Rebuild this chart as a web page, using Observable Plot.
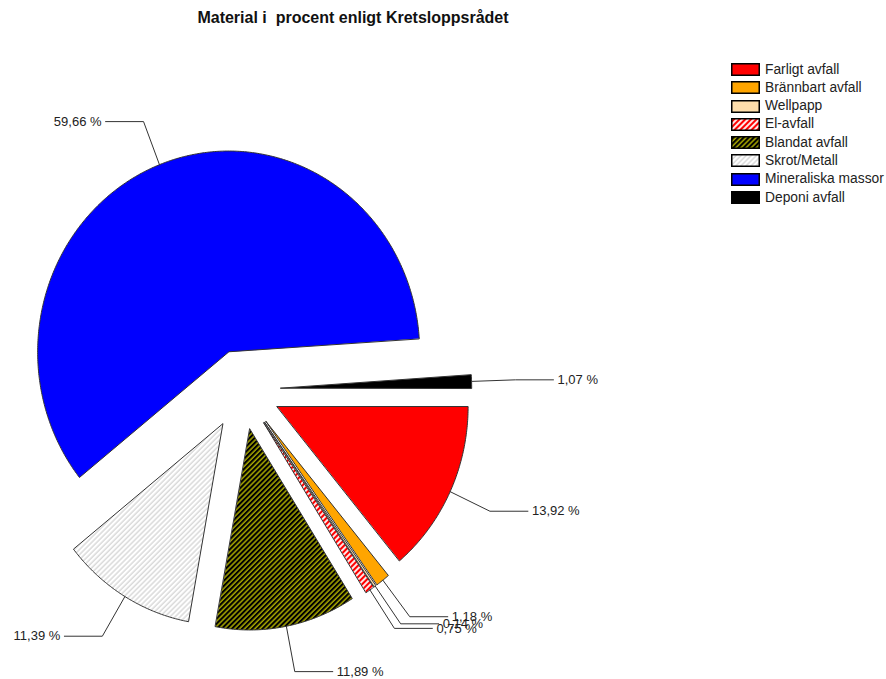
<!DOCTYPE html>
<html>
<head>
<meta charset="utf-8">
<script src="https://cdn.jsdelivr.net/npm/d3@7"></script>
<script src="https://cdn.jsdelivr.net/npm/@observablehq/plot@0.6"></script>
<style>
  body { margin: 0; background: #fff; font-family: "Liberation Sans", Arial, sans-serif; }
  #wrap { position: relative; width: 886px; height: 679px; overflow: hidden; }
  #title { height: 36px; width: 706px; text-align: center; font-weight: bold; font-size: 16px;
           line-height: 18px; padding-top: 9px; box-sizing: border-box; white-space: pre; color: #111; }
  #legend { position: absolute; left: 731px; top: 63px; font-size: 13.8px; color: #222; }
  .row { position: relative; height: 18.3px; }
  .row svg { position: absolute; left: 0; top: 0; }
  .row span { position: absolute; left: 34px; top: -1.5px; line-height: 15px; white-space: nowrap; }
  #defs { position: absolute; width: 0; height: 0; }
</style>
</head>
<body>
<svg id="defs" width="0" height="0">
  <defs>
    <pattern id="hatch-el" patternUnits="userSpaceOnUse" width="4" height="4" patternTransform="rotate(45)">
      <rect width="4" height="4" fill="#ff0000"></rect>
      <line x1="1" y1="0" x2="1" y2="4" stroke="#ffffff" stroke-width="1.8"></line>
    </pattern>
    <pattern id="hatch-blandat" patternUnits="userSpaceOnUse" width="3.6" height="3.6" patternTransform="rotate(45)">
      <rect width="3.6" height="3.6" fill="#000000"></rect>
      <line x1="1" y1="0" x2="1" y2="3.6" stroke="#e6e600" stroke-width="1.1"></line>
    </pattern>
    <pattern id="hatch-skrot" patternUnits="userSpaceOnUse" width="3.6" height="3.6" patternTransform="rotate(45)">
      <rect width="3.6" height="3.6" fill="#ffffff"></rect>
      <line x1="1" y1="0" x2="1" y2="3.6" stroke="#c8c8c8" stroke-width="1"></line>
    </pattern>
  </defs>
</svg>
<div id="wrap">
  <div id="title">Material i  procent enligt Kretsloppsrådet</div>
  <div id="chart"></div>
  <div id="legend"></div>
</div>
<script>
// ---- data ----
const categories = ["Farligt avfall", "Brännbart avfall", "Wellpapp", "El-avfall",
                    "Blandat avfall", "Skrot/Metall", "Mineraliska massor", "Deponi avfall"];
const percents = [13.92, 1.18, 0.14, 0.75, 11.89, 11.39, 59.66, 1.07];
const valueLabels = ["13,92 %", "1,18 %", "0,14 %", "0,75 %", "11,89 %", "11,39 %", "59,66 %", "1,07 %"];

// ---- styles ----
const palette = ["#ff0000", "#ffa500", "#ffdeab", "url(#hatch-el)",
                 "url(#hatch-blandat)", "url(#hatch-skrot)", "#0000ff", "#000000"];

// ---- layout ----
const W = 886, H = 643, CX = 242, CY = 353, RX = 191, RY = 201;
const EXPLODE = 0.2, ELBOW = 1.23, ARM = 38, GAP = 4;

const rows = categories.map((name, i) => ({name, value: percents[i], label: valueLabels[i], fill: palette[i]}));
const arcs = d3.pie().sort(null).value(d => d.value)
  .startAngle(Math.PI / 2).endAngle(Math.PI / 2 + 2 * Math.PI)(rows);

const dir = a => [Math.sin(a), -Math.cos(a)];

const slicePts = [];
const leaderPts = [];
const textPts = [];
for (const a of arcs) {
  const mid = (a.startAngle + a.endAngle) / 2;
  const [mx, my] = dir(mid);
  const ox = EXPLODE * mx, oy = EXPLODE * my;
  slicePts.push({name: a.data.name, fill: a.data.fill, x: ox, y: oy});
  const n = Math.max(2, Math.ceil((a.endAngle - a.startAngle) / (Math.PI / 360)));
  for (let k = 0; k <= n; k++) {
    const t = a.startAngle + (a.endAngle - a.startAngle) * k / n;
    const [dx, dy] = dir(t);
    slicePts.push({name: a.data.name, fill: a.data.fill, x: ox + dx, y: oy + dy});
  }
  const side = mx >= 0 ? 1 : -1;
  const ex = ox + ELBOW * mx, ey = oy + ELBOW * my;
  const hx = ex + side * ARM / RX;
  leaderPts.push({name: a.data.name, x: ox + mx, y: oy + my});
  leaderPts.push({name: a.data.name, x: ex, y: ey});
  leaderPts.push({name: a.data.name, x: hx, y: ey});
  textPts.push({label: a.data.label, x: hx + side * GAP / RX, y: ey, anchor: side > 0 ? "start" : "end"});
}

const chart = Plot.plot({
  width: W, height: H,
  margin: 0,
  style: {fontFamily: "'Liberation Sans', Arial, sans-serif", fontSize: "13px", background: "#fff"},
  x: {domain: [-CX / RX, (W - CX) / RX], range: [0, W], axis: null},
  y: {domain: [-CY / RY, (H - CY) / RY], range: [0, H], axis: null},
  color: {type: "identity"},
  marks: [
    Plot.line(slicePts, {x: "x", y: "y", z: "name", fill: "fill", stroke: "#333", strokeWidth: 1, curve: "linear-closed"}),
    Plot.line(leaderPts, {x: "x", y: "y", z: "name", stroke: "#333", strokeWidth: 1}),
    Plot.text(textPts.filter(d => d.anchor === "start"), {x: "x", y: "y", text: "label", textAnchor: "start", fill: "#222", fontSize: 13}),
    Plot.text(textPts.filter(d => d.anchor === "end"), {x: "x", y: "y", text: "label", textAnchor: "end", fill: "#222", fontSize: 13})
  ]
});
document.getElementById("chart").appendChild(chart);

// ---- legend ----
const legend = document.getElementById("legend");
rows.forEach(r => {
  const row = document.createElement("div");
  row.className = "row";
  row.innerHTML = `<svg width="29" height="13"><rect x="0.75" y="0.75" width="27.5" height="11.5" fill="${r.fill}" stroke="#000" stroke-width="1.5"></rect></svg><span>${r.name}</span>`;
  legend.appendChild(row);
});
</script>
</body>
</html>
